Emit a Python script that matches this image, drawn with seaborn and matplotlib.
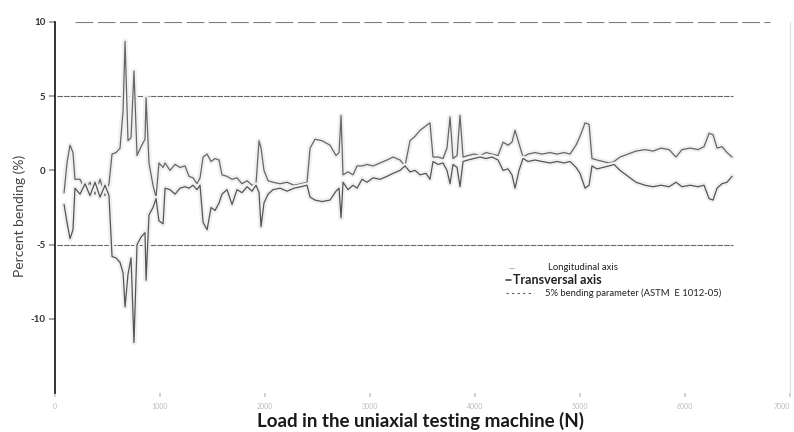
import numpy as np
import pandas as pd
import matplotlib
matplotlib.use("Agg")
import matplotlib.pyplot as plt
import matplotlib.patheffects as pe
import seaborn as sns

# Carga (N) e flexao (%)
load = [86, 114, 143, 171, 190, 238, 286, 333, 381, 429, 476, 514, 543, 581, 619,
        648, 667, 695, 724, 752, 781, 819, 857, 867, 895, 933, 962, 990, 1029, 1048,
        1095, 1143, 1190, 1238, 1276, 1314, 1352, 1381, 1410, 1448, 1486, 1524, 1562,
        1590, 1638, 1686, 1733, 1781, 1829, 1876, 1914, 1943, 1962, 1990, 2029, 2076,
        2143, 2210, 2276, 2343, 2400, 2429, 2476, 2543, 2619, 2676, 2705, 2724, 2743,
        2790, 2838, 2876, 2924, 2971, 3029, 3095, 3162, 3219, 3286, 3333, 3381, 3429,
        3476, 3533, 3571, 3600, 3648, 3695, 3733, 3762, 3790, 3829, 3857, 3886, 3933,
        3990, 4048, 4105, 4162, 4219, 4267, 4314, 4352, 4381, 4419, 4457, 4505, 4571,
        4638, 4714, 4781, 4848, 4905, 4962, 5000, 5048, 5086, 5114, 5162, 5219, 5276,
        5324, 5381, 5457, 5533, 5619, 5695, 5771, 5848, 5914, 5971, 6048, 6124, 6181,
        6229, 6267, 6305, 6352, 6400, 6448]

longitudinal = [-1.5, 0.5, 1.7, 1.2, -0.6, -0.6, -1.3, -0.8, -1.6, -0.6, -1.7, -0.9, 1.1, 1.2, 1.5,
                4.0, 8.7, 2.0, 2.2, 6.7, 1.0, 1.6, 2.1, 4.9, 0.5, -1.0, -1.8, 0.5, 0.2, 0.5,
                0.0, 0.4, 0.2, 0.3, -0.4, -0.5, -0.9, -0.5, 0.9, 1.1, 0.6, 0.8, 0.7,
                -0.3, -0.4, -0.6, -0.5, -0.9, -0.7, -1.0, -0.9, 2.0, 1.5, 0.0, -0.7, -0.8,
                -0.9, -0.8, -1.0, -0.9, -0.8, 1.5, 2.1, 2.0, 1.7, 1.0, 1.2, 3.7, -0.3,
                -0.1, -0.3, 0.3, 0.3, 0.4, 0.3, 0.5, 0.7, 0.9, 0.7, 0.3, 2.0, 2.3,
                2.7, 3.0, 3.2, 0.9, 0.9, 0.8, 1.5, 3.6, 0.8, 1.0, 3.7, 0.9, 1.0,
                1.1, 1.0, 1.2, 1.1, 1.0, 1.9, 1.7, 1.9, 2.7, 1.8, 0.9, 1.1, 1.2,
                1.1, 1.2, 1.1, 1.2, 1.1, 1.7, 2.3, 3.2, 3.1, 0.8, 0.7, 0.6, 0.5,
                0.6, 0.9, 1.1, 1.3, 1.4, 1.3, 1.5, 1.4, 0.9, 1.4, 1.5, 1.4, 1.6,
                2.5, 2.4, 1.5, 1.6, 1.2, 0.9]

transversal = [-2.3, -3.5, -4.6, -4.0, -1.2, -1.6, -0.9, -1.7, -0.8, -1.8, -1.0, -1.7, -5.8, -5.9, -6.2,
               -6.9, -9.2, -7.0, -5.9, -11.6, -5.0, -4.5, -4.2, -7.4, -3.0, -2.5, -1.9, -3.4, -3.6, -1.2,
               -1.3, -1.6, -1.2, -1.1, -1.2, -1.0, -1.3, -1.0, -3.5, -4.0, -2.5, -2.7, -2.2,
               -1.6, -1.3, -2.3, -1.3, -1.5, -1.1, -1.4, -1.0, -1.5, -3.8, -2.2, -1.6, -1.3,
               -1.2, -1.4, -1.2, -1.1, -1.0, -1.8, -2.0, -2.1, -2.0, -1.4, -1.2, -3.2, -0.8,
               -1.3, -1.0, -1.2, -0.6, -0.8, -0.5, -0.6, -0.4, -0.2, 0.0, 0.3, -0.1, 0.0,
               -0.3, -0.2, -0.6, 0.6, 0.4, 0.5, 0.0, -0.9, 0.4, 0.2, -1.1, 0.6, 0.7,
               0.8, 0.9, 0.8, 0.9, 0.7, 0.0, 0.1, -0.3, -1.2, 0.0, 0.8, 0.6, 0.7,
               0.6, 0.5, 0.6, 0.5, 0.6, 0.2, -0.2, -1.2, -1.0, 0.3, 0.1, 0.2, 0.3,
               0.4, 0.0, -0.4, -0.8, -1.0, -1.1, -1.0, -1.1, -0.8, -1.1, -1.0, -1.1, -1.0,
               -1.9, -2.0, -1.2, -0.9, -0.8, -0.4]

bending_limit = 5
y_ticks = [-10, -5, 0, 5, 10]
x_ticks = [0, 1000, 2000, 3000, 4000, 5000, 6000, 7000]
legend_labels = ["Longitudinal axis", "Transversal axis",
                 "5% bending parameter (ASTM  E 1012-05)"]

df = pd.DataFrame({"load": load, "long": longitudinal, "trans": transversal})

sns.set_theme(style="white")
plt.rcParams["font.family"] = ["Lato", "DejaVu Sans"]

fig = plt.figure(figsize=(7.94, 4.32), dpi=100)
ax = fig.add_axes([0.0693, 0.0903, 0.9257, 0.8588])

halo = [pe.Stroke(linewidth=4, foreground="#f0f0f0"), pe.Normal()]

# Linhas de limite (5% de flexao)
for lim in [bending_limit, -bending_limit]:
    ax.axhline(lim, xmin=0.003, xmax=0.922, color="#666666", lw=0.8, ls=(0, (5, 1)))
ax.axhline(10, xmin=0.027, xmax=0.973, color="#7a7a7a", lw=0.8, ls=(0, (16, 4)))

sns.lineplot(data=df, x="load", y="long", ax=ax, color="#666666", lw=0.9,
             path_effects=halo, legend=False)
sns.lineplot(data=df, x="load", y="trans", ax=ax, color="#555555", lw=0.9,
             path_effects=halo, legend=False)

ax.set_xlim(0, 7000)
ax.set_ylim(-15, 10)
ax.set_yticks(y_ticks)
ax.set_yticklabels([str(t) for t in y_ticks], fontsize=7, fontweight="bold", color="#333333")
ax.set_xticks(x_ticks)
xt = ax.set_xticklabels([str(t) for t in x_ticks], fontsize=5, color="#bbbbbb")
xt[-1].set_ha("right")
ax.tick_params(axis="y", direction="out", length=4, color="#999999", left=True, pad=3)
ax.tick_params(axis="x", direction="out", length=3, color="#cccccc", bottom=True, pad=4)
ax.set_xlabel("")
ax.set_ylabel("")

for s in ["top", "bottom"]:
    ax.spines[s].set_visible(False)
ax.spines["left"].set_color("#111111")
ax.spines["left"].set_linewidth(1.2)
ax.spines["right"].set_color("#dddddd")
ax.spines["right"].set_linewidth(0.8)

# Legenda montada a mao (como no original)
tr = ax.transAxes
ax.plot([0.617, 0.625], [0.337, 0.337], transform=tr, color="#bbbbbb", lw=0.8)
ax.text(0.671, 0.337, legend_labels[0], transform=tr, fontsize=6.8, va="center",
        color="#222222")
ax.plot([0.614, 0.620], [0.305, 0.305], transform=tr, color="#333333", lw=1.1)
ax.text(0.623, 0.305, legend_labels[1], transform=tr, fontsize=9, va="center",
        fontweight="bold", color="#222222")
ax.plot([0.614, 0.652], [0.270, 0.270], transform=tr, color="#555555", lw=0.8,
        ls=(0, (2, 3)))
ax.text(0.667, 0.270, legend_labels[2], transform=tr, fontsize=6.8, va="center",
        color="#222222")

fig.text(0.529, 0.025, "Load in the uniaxial testing machine (N)", ha="center", va="center",
         fontsize=13.5, fontweight="bold", color="#1a1a1a")
fig.text(0.025, 0.5, "Percent bending (%)", ha="center", va="center", rotation=90,
         fontsize=10, color="#444444")

fig.savefig("out.png", dpi=100)
